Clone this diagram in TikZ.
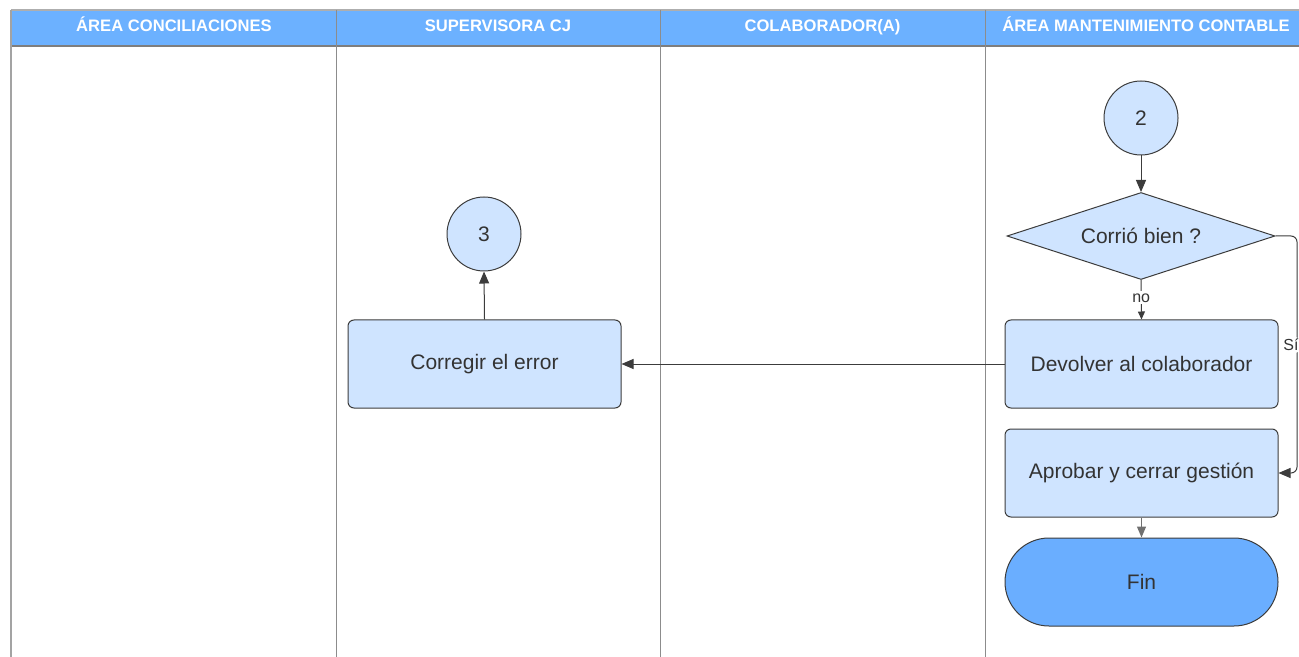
\documentclass[tikz,border=0pt]{standalone}
\usepackage{fontspec}
\setmainfont{Liberation Sans}
\usetikzlibrary{shapes.geometric,arrows.meta}
\definecolor{hdr}{HTML}{6CB1FF}
\definecolor{nodefill}{HTML}{CFE4FF}
\definecolor{finfill}{HTML}{6AAEFF}
\definecolor{bord}{HTML}{3C3C3C}
\definecolor{txt}{HTML}{333333}
\definecolor{lane}{HTML}{8C8C8C}
\tikzset{
  hdrtext/.style={text=white,font=\fontsize{8.3}{10}\selectfont\bfseries,anchor=base},
  proc/.style={draw=bord,fill=nodefill,line width=0.5pt,rounded corners=3pt,minimum width=136.5pt,minimum height=44pt,inner sep=0pt,text=txt,font=\fontsize{10.5}{12}\selectfont},
  conn/.style={circle,draw=bord,fill=nodefill,line width=0.5pt,minimum size=37pt,inner sep=0pt,text=txt,font=\fontsize{10.5}{12}\selectfont},
  decis/.style={diamond,aspect=3.08,draw=bord,fill=nodefill,line width=0.5pt,minimum width=134pt,minimum height=43.5pt,inner sep=0pt,text=txt,font=\fontsize{10.5}{12}\selectfont},
  term/.style={draw=bord,fill=finfill,line width=0.5pt,rounded corners=22pt,minimum width=136.5pt,minimum height=44pt,inner sep=0pt,text=txt,font=\fontsize{10.5}{12}\selectfont},
  arr/.style={draw=bord,line width=0.5pt,-{Triangle[length=6pt,width=5pt]}},
  smallarr/.style={draw=bord,line width=0.5pt,-{Triangle[length=4pt,width=3.5pt]}},
  grayarr/.style={draw=lane!80!black,line width=0.6pt,-{Triangle[length=5.5pt,width=4.5pt]}},
  lbl/.style={fill=white,inner sep=1pt,text=txt,font=\fontsize{8}{9}\selectfont},
}
\begin{document}
\begin{tikzpicture}[x=0.5pt,y=-0.5pt]
\useasboundingbox (0,0) rectangle (1299,657);
\clip (0,0) rectangle (1299,657);
% header band
\fill[hdr] (11,10) rectangle (1310,46);
\draw[lane!70,line width=0.8pt] (11,10) -- (1310,10);
\draw[lane!90!black,line width=0.6pt] (11,46) -- (1310,46);
% lane lines
\draw[lane!80,line width=1pt] (11,10) -- (11,660);
\foreach \x in {336,660,985}{\draw[lane,line width=0.5pt] (\x,10) -- (\x,660);}
\node[hdrtext] (h1) at (174,32) {ÁREA CONCILIACIONES};
\node[hdrtext] (h2) at (498,32) {SUPERVISORA CJ};
\node[hdrtext] (h3) at (822.5,32) {COLABORADOR(A)};
\node[hdrtext] (h4) at (1146,32) {ÁREA MANTENIMIENTO CONTABLE};
% nodes
\node[conn] (c2) at (1141,118) {2};
\node[decis] (dec) at (1141,236) {Corrió bien ?};
\node[proc] (dev) at (1141.5,364) {Devolver al colaborador};
\node[proc] (apr) at (1141.5,473) {Aprobar y cerrar gestión};
\node[term] (fin) at (1141.5,582) {Fin};
\node[proc] (cor) at (484.5,364) {Corregir el error};
\node[conn] (c3) at (484,234) {3};
\coordinate (sibend) at (1297,0);
% connectors
\draw[arr] (c2) -- (dec);
\draw[smallarr] (dec.south) -- node[lbl,pos=0.45] {no} (dev.north);
\draw[arr] (dev.west) -- (cor.east);
\draw[arr] (cor.north) -- (c3.south);
\draw[grayarr] (apr.south) -- (fin.north);
\draw[arr,rounded corners=3pt] (dec.east) -| (sibend |- apr.east) node[lbl,pos=0.73,xshift=-3pt] {Sí} -- (apr.east);
\end{tikzpicture}
\end{document}
